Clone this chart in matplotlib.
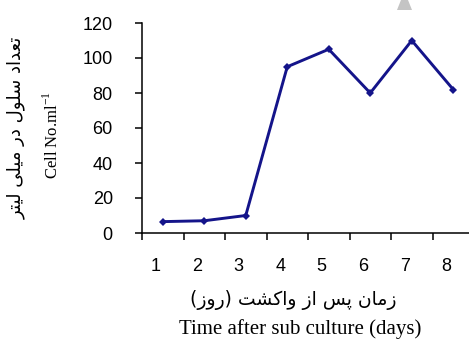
import matplotlib
matplotlib.use("Agg")
import matplotlib.pyplot as plt
from matplotlib.patches import Polygon
from matplotlib.transforms import ScaledTranslation

# روز پس از واکشت و تعداد سلول
days = [1, 2, 3, 4, 5, 6, 7, 8]
cells = [6.5, 7, 10, 95, 105, 80, 110, 82]
y_ticks = [0, 20, 40, 60, 80, 100, 120]

ylabel_fa = "تعداد سلول در میلی لیتر"
ylabel_en = r"Cell No.ml$^{\mathregular{-1}}$"
xlabel_fa = "زمان پس از واکشت (روز)"
xlabel_en = "Time after sub culture (days)"

# presentation forms: isolated, final, initial, medial
FORMS = {
    "ا": ("\uFE8D", "\uFE8E", None, None),
    "د": ("\uFEA9", "\uFEAA", None, None),
    "ر": ("\uFEAD", "\uFEAE", None, None),
    "ز": ("\uFEAF", "\uFEB0", None, None),
    "و": ("\uFEED", "\uFEEE", None, None),
    "ت": ("\uFE95", "\uFE96", "\uFE97", "\uFE98"),
    "ع": ("\uFEC9", "\uFECA", "\uFECB", "\uFECC"),
    "س": ("\uFEB1", "\uFEB2", "\uFEB3", "\uFEB4"),
    "ش": ("\uFEB5", "\uFEB6", "\uFEB7", "\uFEB8"),
    "ل": ("\uFEDD", "\uFEDE", "\uFEDF", "\uFEE0"),
    "م": ("\uFEE1", "\uFEE2", "\uFEE3", "\uFEE4"),
    "ن": ("\uFEE5", "\uFEE6", "\uFEE7", "\uFEE8"),
    "ی": ("\uFBFC", "\uFBFD", "\uFBFE", "\uFBFF"),
    "پ": ("\uFB56", "\uFB57", "\uFB58", "\uFB59"),
    "ک": ("\uFB8E", "\uFB8F", "\uFB90", "\uFB91"),
}
MIRROR = {"(": ")", ")": "("}


def shape_fa(text):
    out = []
    for i, ch in enumerate(text):
        if ch not in FORMS:
            out.append(MIRROR.get(ch, ch))
            continue
        prev = text[i - 1] if i > 0 else ""
        nxt = text[i + 1] if i + 1 < len(text) else ""
        join_prev = prev in FORMS and FORMS[prev][2] is not None
        join_next = FORMS[ch][2] is not None and nxt in FORMS
        iso, fin, ini, med = FORMS[ch]
        if join_prev and join_next:
            out.append(med)
        elif join_prev:
            out.append(fin)
        elif join_next:
            out.append(ini)
        else:
            out.append(iso)
    return "".join(reversed(out))


W, H = 469, 347
fig = plt.figure(figsize=(W / 100, H / 100), dpi=100)
ax = fig.add_axes([142 / W, (H - 233) / H, 332 / W, 210 / H])

ax.plot(days, cells, color="#14148a", lw=2.1, marker="D", ms=4.5,
        markeredgewidth=0, solid_joinstyle="miter")

ax.set_xlim(0.5, 8.5)
ax.set_ylim(0, 120)
for s in ["top", "right"]:
    ax.spines[s].set_visible(False)
for s in ["left", "bottom"]:
    ax.spines[s].set_linewidth(1.1)

# ticks between categories, labels at the centres
ax.set_xticks([d - 0.5 for d in days] + [8.5])
ax.set_xticklabels([])
ax.set_xticks(days, minor=True)
ax.set_xticklabels([str(d) for d in days], minor=True,
                   family="Liberation Sans", fontsize=13)
ax.tick_params(axis="x", which="major", length=5, width=1.1, direction="out")
ax.tick_params(axis="x", which="minor", length=0, pad=18)
for lab in ax.get_xticklabels(minor=True):
    lab.set_transform(lab.get_transform() + ScaledTranslation(-7 / 100, 0, fig.dpi_scale_trans))

ax.set_yticks(y_ticks)
ax.set_yticklabels([str(v) for v in y_ticks], family="Liberation Sans", fontsize=13)
ax.tick_params(axis="y", length=5, width=1.1, direction="out", pad=16)

fig.text(16 / W, 1 - 128 / H, shape_fa(ylabel_fa), rotation=90, ha="center", va="center",
         family=["DejaVu Sans"], fontsize=13)
fig.text(52 / W, 1 - 135 / H, ylabel_en, rotation=90, ha="center", va="center",
         family="Liberation Serif", fontsize=12)
fig.text(293 / W, 1 - 300 / H, shape_fa(xlabel_fa), ha="center", va="center",
         family=["DejaVu Sans"], fontsize=13.5)
fig.text(300 / W, 1 - 329 / H, xlabel_en, ha="center", va="center",
         family="Liberation Serif", fontsize=15)

# grey fragment at the top edge
fig.patches.append(Polygon([(397 / W, 1 - 10 / H), (401 / W, 1.0), (408 / W, 1.0), (412 / W, 1 - 10 / H)],
                           closed=True, transform=fig.transFigure, facecolor="#c4c4c4", edgecolor="none"))

fig.savefig("out.png", dpi=100)
